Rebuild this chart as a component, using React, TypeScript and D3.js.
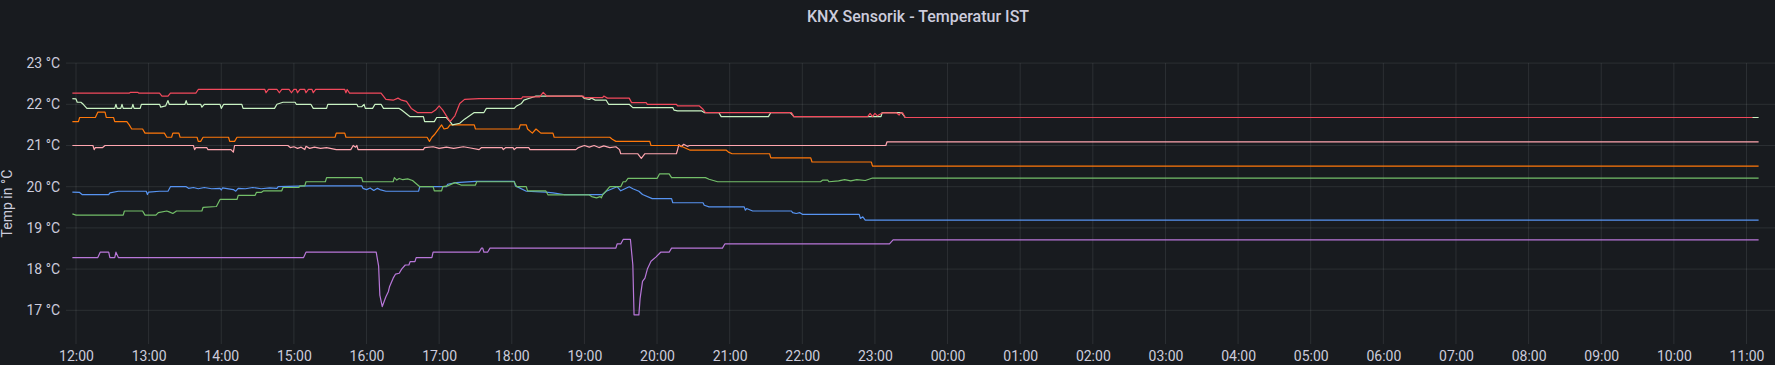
import React, { useEffect, useRef } from "react";
import * as d3 from "d3";

// KNX room temperatures, one array per sensor: ["day HH:MM", °C]
const red: [string, number][] = [
  ["01 11:57", 22.27], ["01 12:44", 22.27], ["01 12:45", 22.29], ["01 12:51", 22.29],
  ["01 12:52", 22.27], ["01 13:09", 22.27], ["01 13:11", 22.2], ["01 13:16", 22.2],
  ["01 13:18", 22.27], ["01 13:39", 22.27], ["01 13:41", 22.36], ["01 14:36", 22.36],
  ["01 14:37", 22.28], ["01 14:39", 22.36], ["01 14:46", 22.36], ["01 14:48", 22.28],
  ["01 14:50", 22.36], ["01 14:56", 22.36], ["01 14:58", 22.28], ["01 15:00", 22.36],
  ["01 15:02", 22.36], ["01 15:03", 22.28], ["01 15:05", 22.36], ["01 15:09", 22.36],
  ["01 15:10", 22.28], ["01 15:12", 22.36], ["01 15:15", 22.36], ["01 15:16", 22.28],
  ["01 15:18", 22.36], ["01 15:42", 22.36], ["01 15:43", 22.28], ["01 15:44", 22.36],
  ["01 15:46", 22.27], ["01 16:12", 22.27], ["01 16:16", 22.12], ["01 16:22", 22.1],
  ["01 16:26", 22.15], ["01 16:29", 22.1], ["01 16:33", 22.07], ["01 16:37", 21.9],
  ["01 16:42", 21.8], ["01 16:54", 21.8], ["01 16:57", 21.86], ["01 17:00", 21.96],
  ["01 17:03", 21.86], ["01 17:09", 21.58], ["01 17:13", 21.72], ["01 17:17", 22.02],
  ["01 17:21", 22.12], ["01 17:33", 22.14], ["01 18:08", 22.14], ["01 18:09", 22.18],
  ["01 18:23", 22.18], ["01 18:26", 22.29], ["01 18:29", 22.2], ["01 18:59", 22.2],
  ["01 19:00", 22.16], ["01 19:15", 22.16], ["01 19:16", 22.2], ["01 19:19", 22.15],
  ["01 19:37", 22.15], ["01 19:39", 22.04], ["01 19:51", 22.04], ["01 19:52", 22.0],
  ["01 20:16", 22.0], ["01 20:17", 21.96], ["01 20:35", 21.96], ["01 20:38", 21.88],
  ["01 20:40", 21.8], ["01 21:51", 21.8], ["01 21:53", 21.7], ["01 22:54", 21.7],
  ["01 22:56", 21.78], ["01 22:58", 21.7], ["01 23:00", 21.78], ["01 23:02", 21.72],
  ["01 23:06", 21.79], ["01 23:18", 21.79], ["01 23:20", 21.74], ["01 23:21", 21.79],
  ["01 23:23", 21.79], ["01 23:25", 21.68], ["02 11:05", 21.68],
];

const lightGreen: [string, number][] = [
  ["01 11:57", 22.14], ["01 12:00", 22.13], ["01 12:01", 22.05], ["01 12:04", 22.05],
  ["01 12:06", 22.0], ["01 12:09", 21.9], ["01 12:32", 21.9], ["01 12:33", 22.0],
  ["01 12:34", 21.9], ["01 12:37", 21.9], ["01 12:38", 22.0], ["01 12:39", 21.9],
  ["01 12:46", 21.9], ["01 12:47", 22.0], ["01 12:48", 21.9], ["01 12:53", 21.9],
  ["01 12:54", 22.0], ["01 13:09", 22.0], ["01 13:10", 21.93], ["01 13:14", 21.96],
  ["01 13:16", 22.09], ["01 13:17", 22.0], ["01 13:30", 22.0], ["01 13:31", 22.09],
  ["01 13:32", 22.0], ["01 13:43", 22.0], ["01 13:44", 21.93], ["01 13:46", 22.0],
  ["01 13:59", 22.0], ["01 14:00", 21.9], ["01 14:02", 22.0], ["01 14:17", 22.0],
  ["01 14:18", 21.9], ["01 14:44", 21.9], ["01 14:46", 22.0], ["01 14:51", 22.05],
  ["01 15:01", 22.05], ["01 15:02", 22.0], ["01 15:14", 22.0], ["01 15:16", 21.9],
  ["01 15:27", 21.9], ["01 15:28", 22.0], ["01 15:52", 22.0], ["01 15:53", 21.94],
  ["01 15:56", 21.94], ["01 15:58", 22.0], ["01 15:59", 21.9], ["01 16:05", 21.9],
  ["01 16:07", 22.0], ["01 16:12", 22.0], ["01 16:14", 21.9], ["01 16:27", 21.9],
  ["01 16:29", 21.86], ["01 16:36", 21.7], ["01 16:47", 21.7], ["01 16:48", 21.58],
  ["01 16:56", 21.58], ["01 16:58", 21.68], ["01 17:06", 21.68], ["01 17:09", 21.58],
  ["01 17:11", 21.5], ["01 17:17", 21.54], ["01 17:21", 21.64], ["01 17:29", 21.8],
  ["01 17:37", 21.8], ["01 17:39", 21.9], ["01 18:02", 21.9], ["01 18:04", 21.96],
  ["01 18:08", 22.02], ["01 18:10", 22.1], ["01 18:14", 22.14], ["01 18:20", 22.2],
  ["01 18:58", 22.2], ["01 19:00", 22.14], ["01 19:04", 22.12], ["01 19:06", 22.15],
  ["01 19:09", 22.1], ["01 19:18", 22.1], ["01 19:20", 22.0], ["01 19:37", 22.0],
  ["01 19:40", 21.92], ["01 20:13", 21.92], ["01 20:14", 21.86], ["01 20:17", 21.84],
  ["01 20:37", 21.84], ["01 20:39", 21.8], ["01 20:51", 21.8], ["01 20:53", 21.7],
  ["01 21:32", 21.7], ["01 21:34", 21.8], ["01 21:50", 21.8], ["01 21:52", 21.74],
  ["01 21:53", 21.7], ["01 23:05", 21.7], ["01 23:06", 21.8], ["01 23:22", 21.8],
  ["01 23:25", 21.68], ["02 11:10", 21.68],
];

const orange: [string, number][] = [
  ["01 11:57", 21.58], ["01 12:02", 21.58], ["01 12:03", 21.68], ["01 12:16", 21.68],
  ["01 12:18", 21.81], ["01 12:24", 21.81], ["01 12:25", 21.68], ["01 12:31", 21.68],
  ["01 12:32", 21.58], ["01 12:42", 21.58], ["01 12:44", 21.5], ["01 12:46", 21.4],
  ["01 12:55", 21.4], ["01 12:57", 21.3], ["01 13:13", 21.3], ["01 13:15", 21.2],
  ["01 13:19", 21.2], ["01 13:20", 21.3], ["01 13:25", 21.3], ["01 13:26", 21.2],
  ["01 13:40", 21.2], ["01 13:41", 21.1], ["01 13:43", 21.1], ["01 13:45", 21.2],
  ["01 14:06", 21.2], ["01 14:07", 21.1], ["01 14:11", 21.1], ["01 14:13", 21.2],
  ["01 15:34", 21.2], ["01 15:35", 21.3], ["01 15:42", 21.3], ["01 15:43", 21.2],
  ["01 16:50", 21.2], ["01 16:52", 21.1], ["01 16:54", 21.2], ["01 16:56", 21.26],
  ["01 16:59", 21.38], ["01 17:02", 21.5], ["01 17:04", 21.4], ["01 17:07", 21.42],
  ["01 17:09", 21.5], ["01 17:29", 21.5], ["01 17:30", 21.4], ["01 18:06", 21.4],
  ["01 18:07", 21.5], ["01 18:12", 21.5], ["01 18:13", 21.4], ["01 18:17", 21.3],
  ["01 18:20", 21.4], ["01 18:24", 21.3], ["01 18:34", 21.3], ["01 18:35", 21.2],
  ["01 19:21", 21.2], ["01 19:23", 21.15], ["01 19:26", 21.1], ["01 19:54", 21.1],
  ["01 19:55", 21.0], ["01 20:18", 21.0], ["01 20:20", 20.98], ["01 20:27", 20.89],
  ["01 20:57", 20.89], ["01 20:59", 20.84], ["01 21:02", 20.8], ["01 21:33", 20.8],
  ["01 21:34", 20.7], ["01 22:07", 20.7], ["01 22:08", 20.6], ["01 22:57", 20.6],
  ["01 22:58", 20.5], ["02 11:10", 20.5],
];

const pink: [string, number][] = [
  ["01 11:57", 21.0], ["01 12:14", 21.0], ["01 12:15", 20.9], ["01 12:16", 20.95],
  ["01 12:22", 20.95], ["01 12:24", 21.0], ["01 13:37", 21.0], ["01 13:38", 20.9],
  ["01 13:39", 20.95], ["01 13:48", 20.95], ["01 13:49", 20.9], ["01 14:08", 20.9],
  ["01 14:10", 20.84], ["01 14:11", 21.0], ["01 14:55", 21.0], ["01 14:57", 20.95],
  ["01 15:00", 20.97], ["01 15:03", 20.93], ["01 15:06", 20.96], ["01 15:09", 20.9],
  ["01 15:10", 20.98], ["01 15:13", 20.93], ["01 15:17", 20.96], ["01 15:22", 20.93],
  ["01 15:27", 20.95], ["01 15:35", 20.9], ["01 15:47", 20.9], ["01 15:49", 21.0],
  ["01 15:51", 20.96], ["01 15:52", 21.0], ["01 15:53", 20.9], ["01 16:47", 20.9],
  ["01 16:48", 20.95], ["01 16:55", 20.97], ["01 17:00", 20.93], ["01 17:06", 20.96],
  ["01 17:12", 20.93], ["01 17:20", 20.97], ["01 17:26", 20.94], ["01 17:33", 20.9],
  ["01 17:35", 20.95], ["01 17:52", 20.95], ["01 17:53", 20.9], ["01 17:55", 20.95],
  ["01 18:01", 20.95], ["01 18:02", 20.9], ["01 18:04", 20.95], ["01 18:14", 20.95],
  ["01 18:15", 20.9], ["01 18:53", 20.9], ["01 18:55", 20.95], ["01 19:00", 21.0],
  ["01 19:04", 20.96], ["01 19:08", 21.0], ["01 19:12", 20.95], ["01 19:16", 20.99],
  ["01 19:21", 20.95], ["01 19:26", 20.97], ["01 19:29", 20.9], ["01 19:30", 20.8],
  ["01 19:44", 20.8], ["01 19:47", 20.69], ["01 19:50", 20.8], ["01 20:16", 20.8],
  ["01 20:17", 20.9], ["01 20:18", 21.02], ["01 20:20", 20.97], ["01 20:22", 21.03],
  ["01 20:25", 20.98], ["01 20:27", 21.0], ["01 23:09", 21.0], ["01 23:10", 21.09],
  ["02 11:10", 21.09],
];

const green: [string, number][] = [
  ["01 11:57", 19.34], ["01 12:00", 19.31], ["01 12:39", 19.31], ["01 12:40", 19.41],
  ["01 12:55", 19.41], ["01 12:57", 19.31], ["01 13:06", 19.31], ["01 13:08", 19.37],
  ["01 13:15", 19.41], ["01 13:17", 19.39], ["01 13:20", 19.35], ["01 13:23", 19.41],
  ["01 13:44", 19.41], ["01 13:45", 19.5], ["01 13:56", 19.52], ["01 13:59", 19.69],
  ["01 14:13", 19.69], ["01 14:14", 19.79], ["01 14:28", 19.79], ["01 14:29", 19.86],
  ["01 14:33", 19.86], ["01 14:35", 19.9], ["01 14:50", 19.9], ["01 14:51", 19.98],
  ["01 15:04", 19.98], ["01 15:05", 20.02], ["01 15:09", 20.02], ["01 15:10", 20.12],
  ["01 15:26", 20.12], ["01 15:27", 20.22], ["01 15:56", 20.22], ["01 15:57", 20.12],
  ["01 16:22", 20.12], ["01 16:23", 20.22], ["01 16:25", 20.16], ["01 16:27", 20.2],
  ["01 16:30", 20.17], ["01 16:34", 20.19], ["01 16:38", 20.15], ["01 16:44", 20.0],
  ["01 16:55", 20.0], ["01 16:56", 19.9], ["01 17:02", 19.9], ["01 17:03", 20.0],
  ["01 17:07", 20.02], ["01 17:13", 20.1], ["01 17:18", 20.04], ["01 17:30", 20.04],
  ["01 17:31", 20.12], ["01 18:02", 20.12], ["01 18:04", 20.0], ["01 18:12", 20.0],
  ["01 18:13", 19.9], ["01 18:28", 19.9], ["01 18:30", 19.8], ["01 19:04", 19.8],
  ["01 19:06", 19.76], ["01 19:10", 19.73], ["01 19:13", 19.76], ["01 19:14", 19.73],
  ["01 19:15", 19.8], ["01 19:18", 19.9], ["01 19:21", 20.0], ["01 19:30", 20.0],
  ["01 19:32", 20.12], ["01 19:34", 20.12], ["01 19:36", 20.2], ["01 20:00", 20.2],
  ["01 20:02", 20.31], ["01 20:10", 20.31], ["01 20:12", 20.22], ["01 20:40", 20.22],
  ["01 20:43", 20.18], ["01 20:50", 20.12], ["01 22:15", 20.12], ["01 22:17", 20.16],
  ["01 22:21", 20.16], ["01 22:22", 20.12], ["01 22:30", 20.14], ["01 22:35", 20.17],
  ["01 22:40", 20.14], ["01 22:45", 20.17], ["01 22:52", 20.15], ["01 22:58", 20.21],
  ["02 11:10", 20.21],
];

const blue: [string, number][] = [
  ["01 11:57", 19.87], ["01 12:03", 19.86], ["01 12:05", 19.81], ["01 12:27", 19.81],
  ["01 12:28", 19.85], ["01 12:35", 19.89], ["01 12:58", 19.89], ["01 12:59", 19.81],
  ["01 13:00", 19.87], ["01 13:09", 19.89], ["01 13:16", 19.89], ["01 13:18", 20.0],
  ["01 13:31", 20.0], ["01 13:33", 19.96], ["01 13:37", 19.98], ["01 13:41", 19.95],
  ["01 13:46", 19.98], ["01 13:52", 19.95], ["01 13:59", 19.96], ["01 14:00", 19.92],
  ["01 14:01", 19.97], ["01 14:10", 19.93], ["01 14:12", 19.89], ["01 14:14", 19.96],
  ["01 14:20", 19.95], ["01 14:26", 19.98], ["01 14:33", 19.95], ["01 14:40", 19.97],
  ["01 14:46", 19.96], ["01 14:47", 20.0], ["01 15:12", 20.02], ["01 15:56", 20.02],
  ["01 15:57", 19.96], ["01 16:00", 19.93], ["01 16:03", 19.97], ["01 16:06", 19.91],
  ["01 16:09", 19.96], ["01 16:11", 19.93], ["01 16:16", 19.89], ["01 16:43", 19.89],
  ["01 16:44", 20.0], ["01 17:06", 20.0], ["01 17:07", 20.06], ["01 17:14", 20.1],
  ["01 17:30", 20.13], ["01 18:02", 20.13], ["01 18:03", 20.02], ["01 18:12", 19.89],
  ["01 18:28", 19.87], ["01 18:34", 19.85], ["01 18:43", 19.81], ["01 19:15", 19.81],
  ["01 19:18", 19.89], ["01 19:23", 19.95], ["01 19:27", 20.0], ["01 19:30", 19.9],
  ["01 19:37", 20.0], ["01 19:40", 19.95], ["01 19:45", 19.89], ["01 19:48", 19.81],
  ["01 19:56", 19.71], ["01 20:12", 19.71], ["01 20:13", 19.61], ["01 20:38", 19.61],
  ["01 20:39", 19.55], ["01 20:43", 19.51], ["01 21:12", 19.51], ["01 21:13", 19.43],
  ["01 21:14", 19.47], ["01 21:19", 19.41], ["01 21:51", 19.41], ["01 21:52", 19.37],
  ["01 21:55", 19.35], ["01 21:58", 19.37], ["01 22:00", 19.33], ["01 22:47", 19.33],
  ["01 22:48", 19.23], ["01 22:50", 19.27], ["01 22:52", 19.19], ["02 11:10", 19.19],
];

const purple: [string, number][] = [
  ["01 11:57", 18.28], ["01 12:18", 18.28], ["01 12:20", 18.41], ["01 12:27", 18.41],
  ["01 12:28", 18.28], ["01 12:32", 18.28], ["01 12:33", 18.41], ["01 12:35", 18.28],
  ["01 15:08", 18.28], ["01 15:10", 18.41], ["01 16:08", 18.41], ["01 16:10", 18.07],
  ["01 16:11", 17.37], ["01 16:13", 17.09], ["01 16:14", 17.17], ["01 16:16", 17.33],
  ["01 16:18", 17.45], ["01 16:19", 17.57], ["01 16:22", 17.78], ["01 16:24", 17.88],
  ["01 16:27", 17.9], ["01 16:29", 18.0], ["01 16:32", 18.1], ["01 16:35", 18.1],
  ["01 16:36", 18.18], ["01 16:40", 18.18], ["01 16:41", 18.28], ["01 16:54", 18.28],
  ["01 16:55", 18.41], ["01 17:33", 18.41], ["01 17:35", 18.51], ["01 17:36", 18.51],
  ["01 17:37", 18.41], ["01 17:40", 18.41], ["01 17:42", 18.51], ["01 19:26", 18.51],
  ["01 19:27", 18.61], ["01 19:30", 18.61], ["01 19:32", 18.72], ["01 19:38", 18.72],
  ["01 19:40", 18.1], ["01 19:41", 16.89], ["01 19:45", 16.89], ["01 19:46", 17.29],
  ["01 19:48", 17.7], ["01 19:50", 17.78], ["01 19:52", 18.0], ["01 19:55", 18.19],
  ["01 19:59", 18.29], ["01 20:03", 18.41], ["01 20:10", 18.41], ["01 20:12", 18.51],
  ["01 20:54", 18.51], ["01 20:56", 18.61], ["01 23:12", 18.61], ["01 23:15", 18.71],
  ["02 11:10", 18.71],
];

const series = [
  { data: purple, color: "#B877D9" },
  { data: blue, color: "#5794F2" },
  { data: green, color: "#73BF69" },
  { data: pink, color: "#FFA6B0" },
  { data: orange, color: "#FF780A" },
  { data: lightGreen, color: "#C8F2C2" },
  { data: red, color: "#F2495C" },
];

const yTicks = [17, 18, 19, 20, 21, 22, 23];
const xTicks = [
  "01 12:00", "01 13:00", "01 14:00", "01 15:00", "01 16:00", "01 17:00",
  "01 18:00", "01 19:00", "01 20:00", "01 21:00", "01 22:00", "01 23:00",
  "02 00:00", "02 01:00", "02 02:00", "02 03:00", "02 04:00", "02 05:00",
  "02 06:00", "02 07:00", "02 08:00", "02 09:00", "02 10:00", "02 11:00",
];

const parseTime = d3.timeParse("%d %H:%M");

export default function App() {
  const svgRef = useRef(null);

  useEffect(() => {
    const width = 1775;
    const height = 365;
    const left = 66;
    const top = 63.1;
    const bottom = 344;
    const textColor = "rgb(204, 204, 220)";
    const gridColor = "rgba(240, 250, 255, 0.09)";

    const svg = d3.select(svgRef.current);
    svg.selectAll("*").remove();

    svg.append("rect").attr("width", width).attr("height", height).attr("fill", "#181b1f");

    const x = d3
      .scaleTime()
      .domain([parseTime("01 12:00"), parseTime("02 11:00")])
      .range([76, 1746.5]);
    const y = d3.scaleLinear().domain([17, 23]).range([310.3, top]);

    // grid
    svg
      .append("g")
      .selectAll("line")
      .data(yTicks)
      .enter()
      .append("line")
      .attr("x1", left)
      .attr("x2", width)
      .attr("y1", (d) => y(d))
      .attr("y2", (d) => y(d))
      .attr("stroke", gridColor);

    svg
      .append("g")
      .selectAll("line")
      .data(xTicks)
      .enter()
      .append("line")
      .attr("x1", (d) => x(parseTime(d)))
      .attr("x2", (d) => x(parseTime(d)))
      .attr("y1", top)
      .attr("y2", bottom)
      .attr("stroke", gridColor);

    // axes
    const yAxis = svg
      .append("g")
      .attr("transform", `translate(${left},0)`)
      .call(
        d3
          .axisLeft(y)
          .tickValues(yTicks)
          .tickSize(0)
          .tickPadding(6)
          .tickFormat((d) => `${d} °C`),
      );
    yAxis.select(".domain").remove();
    yAxis
      .selectAll("text")
      .style("fill", textColor)
      .style("font-family", "Roboto")
      .style("font-size", "14px");

    const xAxis = svg
      .append("g")
      .attr("transform", `translate(0,${bottom})`)
      .call(
        d3
          .axisBottom(x)
          .tickValues(xTicks.map((d) => parseTime(d)))
          .tickSize(0)
          .tickPadding(7)
          .tickFormat(d3.timeFormat("%H:%M")),
      );
    xAxis.select(".domain").remove();
    xAxis
      .selectAll("text")
      .style("fill", textColor)
      .style("font-family", "Roboto")
      .style("font-size", "14px");

    // y axis title
    svg
      .append("text")
      .attr("transform", `translate(12,${(top + bottom) / 2}) rotate(-90)`)
      .attr("text-anchor", "middle")
      .style("fill", textColor)
      .style("font-family", "Roboto")
      .style("font-size", "14px")
      .text("Temp in °C");

    // title
    svg
      .append("text")
      .attr("x", 918)
      .attr("y", 21.5)
      .attr("text-anchor", "middle")
      .style("fill", textColor)
      .style("font-family", "Roboto")
      .style("font-weight", 500)
      .style("font-size", "16px")
      .text("KNX Sensorik - Temperatur IST");

    // lines
    const line = d3
      .line()
      .x((d) => x(parseTime(d[0])))
      .y((d) => y(d[1]));

    series.forEach((s) => {
      svg
        .append("path")
        .datum(s.data)
        .attr("d", line)
        .style("fill", "none")
        .style("stroke", s.color)
        .style("stroke-width", 1.2)
        .style("stroke-linejoin", "round");
    });
  }, []);

  return (
    <>
      <style>{`body { margin: 0; background: #181b1f; }`}</style>
      <svg ref={svgRef} width={1775} height={365} style={{ display: "block" }} />
    </>
  );
}
